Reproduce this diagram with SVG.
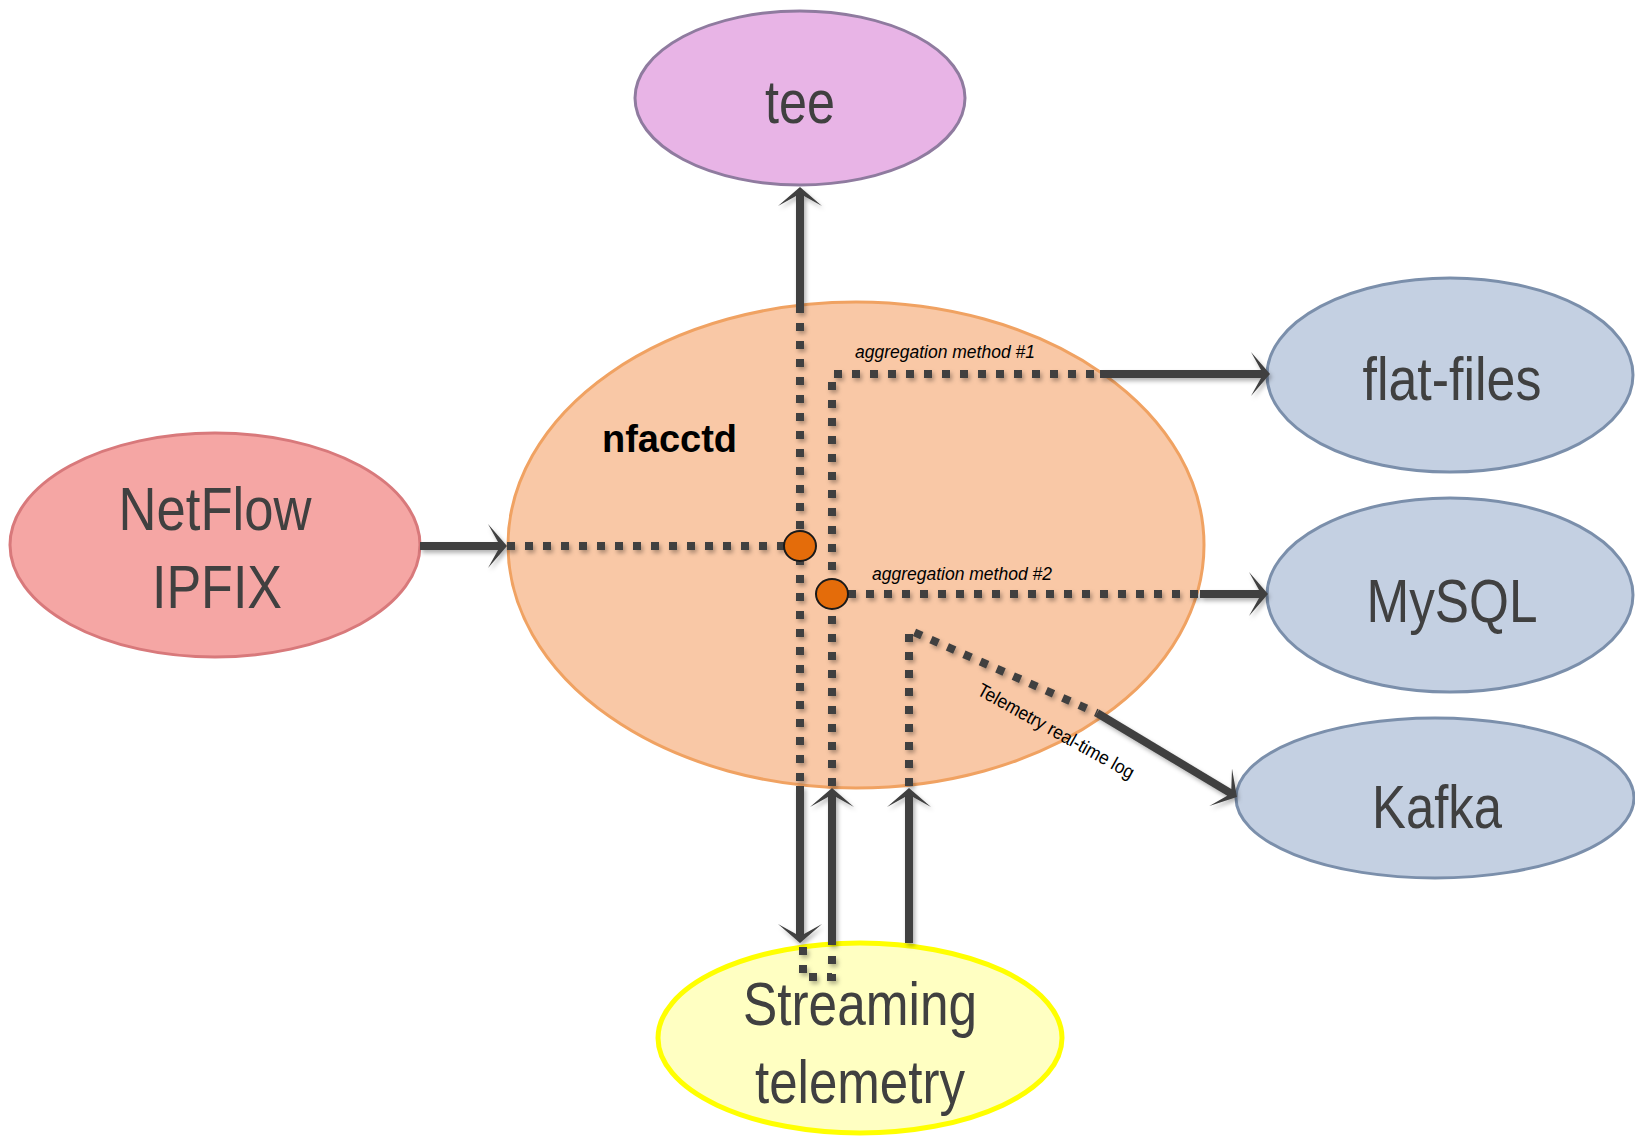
<svg xmlns="http://www.w3.org/2000/svg" width="1635" height="1136" viewBox="0 0 1635 1136">
  <defs>
    <style>
      .node-text { font-family: "Liberation Sans Narrow", "Liberation Sans", Arial, sans-serif; font-size: 61px; fill: #404040; text-anchor: middle; }
      .solid { stroke: #404040; stroke-width: 8; fill: none; stroke-linecap: butt; }
      .dotted { stroke: #404040; stroke-width: 8; fill: none; stroke-dasharray: 8 10; stroke-linecap: butt; }
      .lbl { font-family: "Liberation Sans", Arial, sans-serif; font-size: 19px; fill: #000000; }
      .hub { fill: #E46C0A; stroke: #1A1A1A; stroke-width: 2; }
    </style>
    <marker id="ah" markerUnits="userSpaceOnUse" viewBox="-12 -24 22 48" markerWidth="22" markerHeight="48" refX="0" refY="0" orient="auto" overflow="visible">
      <path d="M8,0 L-11,-22 L-1,-4 L-1,4 L-11,22 Z" fill="#404040"/>
    </marker>
    <filter id="sh" x="-10%" y="-10%" width="120%" height="120%">
      <feDropShadow dx="2" dy="3" stdDeviation="2" flood-color="#000000" flood-opacity="0.3"/>
    </filter>
  </defs>

  <rect x="0" y="0" width="1635" height="1136" fill="#FFFFFF"/>

  <g id="nfacctd">
    <ellipse cx="856" cy="545" rx="348" ry="243" fill="#F9C8A6" stroke="#F0A262" stroke-width="3"/>
    <text x="602" y="452" font-family="'Liberation Sans', Arial, sans-serif" font-weight="bold" font-size="38" fill="#000000" textLength="135" lengthAdjust="spacingAndGlyphs">nfacctd</text>
  </g>

  <g id="tee">
    <ellipse cx="800" cy="98" rx="165" ry="87" fill="#E8B4E6" stroke="#8F7B9F" stroke-width="3"/>
    <text class="node-text" x="800" y="123" textLength="70" lengthAdjust="spacingAndGlyphs">tee</text>
  </g>

  <g id="netflow">
    <ellipse cx="215" cy="545" rx="205" ry="112" fill="#F5A6A4" stroke="#D8797B" stroke-width="3"/>
    <text class="node-text" x="215" y="530" textLength="193" lengthAdjust="spacingAndGlyphs">NetFlow</text>
    <text class="node-text" x="217" y="608" textLength="130" lengthAdjust="spacingAndGlyphs">IPFIX</text>
  </g>

  <g id="flat-files">
    <ellipse cx="1450" cy="375" rx="183" ry="97" fill="#C4D0E2" stroke="#7B8FAB" stroke-width="3"/>
    <text class="node-text" x="1452" y="400" textLength="179" lengthAdjust="spacingAndGlyphs">flat-files</text>
  </g>

  <g id="mysql">
    <ellipse cx="1450" cy="595" rx="183" ry="97" fill="#C4D0E2" stroke="#7B8FAB" stroke-width="3"/>
    <text class="node-text" x="1452" y="622" textLength="171" lengthAdjust="spacingAndGlyphs">MySQL</text>
  </g>

  <g id="kafka">
    <ellipse cx="1435" cy="798" rx="199" ry="80" fill="#C4D0E2" stroke="#7B8FAB" stroke-width="3"/>
    <text class="node-text" x="1437" y="828" textLength="130" lengthAdjust="spacingAndGlyphs">Kafka</text>
  </g>

  <g id="streaming-telemetry">
    <ellipse cx="860" cy="1038" rx="202" ry="95" fill="#FFFFC2" stroke="#FFFF00" stroke-width="5"/>
    <text class="node-text" x="860" y="1025" font-size="58" textLength="234" lengthAdjust="spacingAndGlyphs">Streaming</text>
    <text class="node-text" x="860" y="1103" font-size="58" textLength="210" lengthAdjust="spacingAndGlyphs">telemetry</text>
  </g>

  <g id="connectors" filter="url(#sh)">
    <!-- internal dotted paths -->
    <path class="dotted" d="M800,305 V786"/>
    <path class="dotted" d="M507,546 H784"/>
    <path class="dotted" d="M832,786 V374 H1100"/>
    <path class="dotted" d="M848,594 H1200"/>
    <path class="dotted" d="M909,786 V630 L1097,713"/>
    <path class="dotted" d="M803,947 V977 H832 V947"/>

    <!-- solid arrows -->
    <line class="solid" x1="800" y1="305" x2="800" y2="195" marker-end="url(#ah)"/>
    <line class="solid" x1="420" y1="546" x2="499" y2="546" marker-end="url(#ah)"/>
    <line class="solid" x1="1100" y1="374" x2="1262" y2="374" marker-end="url(#ah)"/>
    <line class="solid" x1="1200" y1="594" x2="1260" y2="594" marker-end="url(#ah)"/>
    <line class="solid" x1="1097" y1="713" x2="1230.1" y2="792.9" marker-end="url(#ah)"/>
    <line class="solid" x1="800" y1="786" x2="800" y2="935" marker-end="url(#ah)"/>
    <line class="solid" x1="832" y1="945" x2="832" y2="796" marker-end="url(#ah)"/>
    <line class="solid" x1="909" y1="943" x2="909" y2="796" marker-end="url(#ah)"/>
  </g>

  <g id="hubs">
    <ellipse class="hub" cx="800" cy="546" rx="16" ry="15"/>
    <ellipse class="hub" cx="832" cy="594" rx="16" ry="15"/>
  </g>

  <g id="labels">
    <text class="lbl" x="855" y="358" font-style="italic" textLength="180" lengthAdjust="spacingAndGlyphs">aggregation method #1</text>
    <text class="lbl" x="872" y="580" font-style="italic" textLength="180" lengthAdjust="spacingAndGlyphs">aggregation method #2</text>
    <text class="lbl" x="976" y="694" transform="rotate(29 976 694)" textLength="176" lengthAdjust="spacingAndGlyphs">Telemetry real-time log</text>
  </g>
</svg>
